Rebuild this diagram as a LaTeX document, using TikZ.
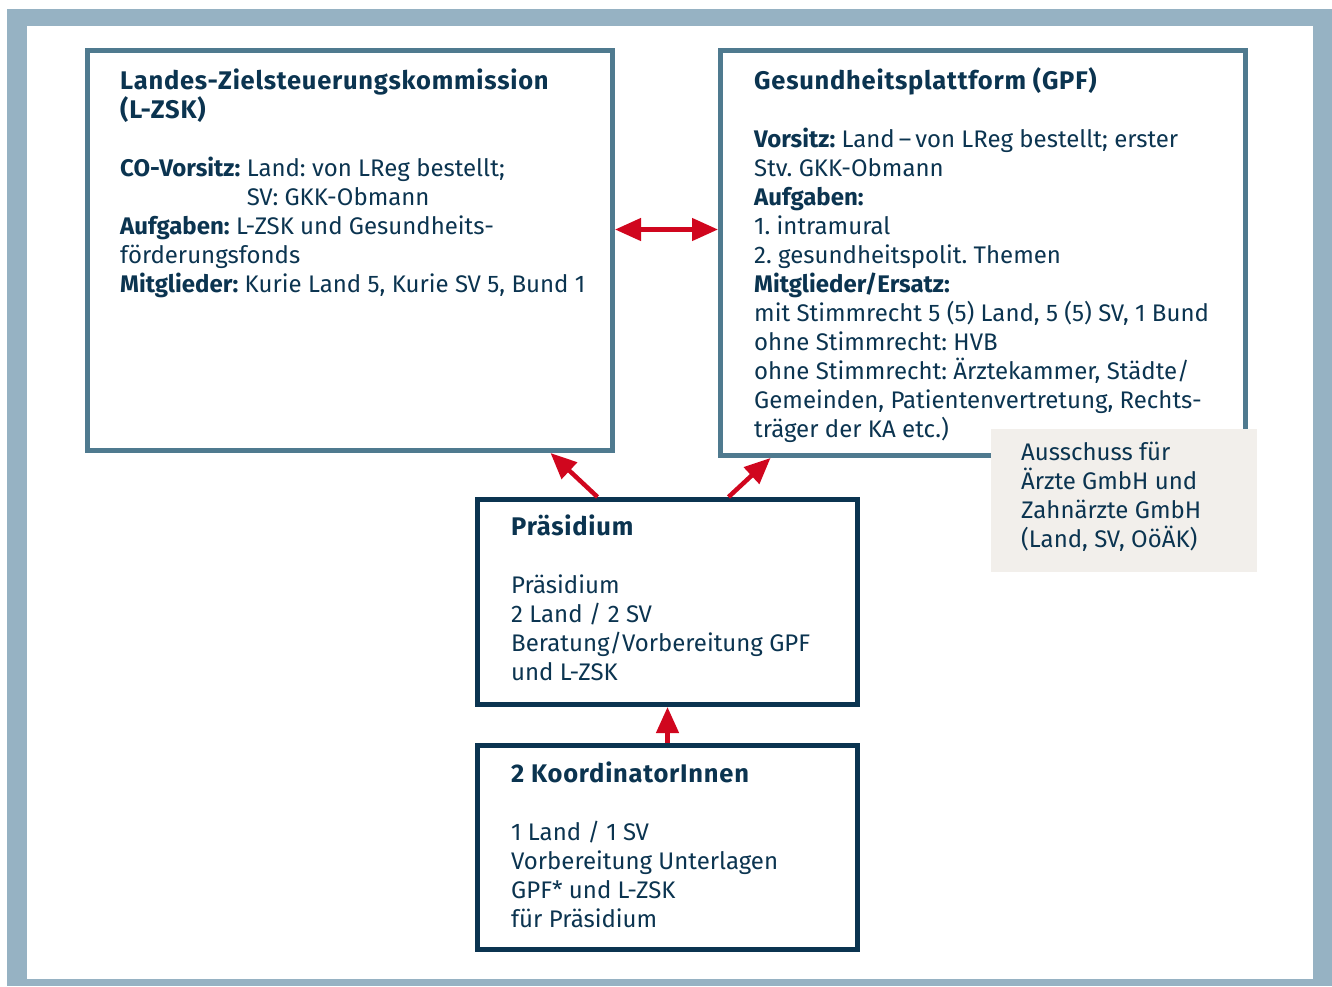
\documentclass[tikz,border=0pt]{standalone}
\usepackage{fontspec}
\setmainfont{Fira Sans}
\frenchspacing
\usetikzlibrary{arrows.meta}
\definecolor{navy}{HTML}{0B3450}
\definecolor{steel}{HTML}{4F7A8F}
\definecolor{frameblue}{HTML}{96B2C3}
\definecolor{redarrow}{HTML}{D0061E}
\definecolor{beige}{HTML}{F2EFEB}
\newcommand{\boxtitle}[1]{{\fontsize{25.5}{29}\selectfont\bfseries\addfontfeature{LetterSpace=3}#1}}
\tikzset{
  topbox/.style={draw=steel, line width=5pt, rectangle, inner sep=0pt},
  lowbox/.style={draw=navy, line width=5pt, rectangle, inner sep=0pt},
  boxtext/.style={anchor=north west, inner sep=0pt, align=left, text=navy,
    font=\fontsize{24}{29}\selectfont},
  redline/.style={draw=redarrow, line width=4.5pt,
    -{Triangle[length=26pt,width=22pt]}},
}

\begin{document}
\begin{tikzpicture}[x=1pt,y=-1pt]
\useasboundingbox (0,0) rectangle (1332,986);
% frame
\fill[frameblue] (7,9) rectangle (1332,986);
\fill[white] (27,26) rectangle (1313,979);

% boxes
\node[topbox, minimum width=525pt, minimum height=400pt] (lzsk) at (350,250.5) {};
\node[topbox, minimum width=525pt, minimum height=405pt] (gpf) at (983,253) {};
\node[fill=beige, minimum width=266pt, minimum height=143pt, inner sep=0pt] (aus) at (1124,500.5) {};
\node[lowbox, minimum width=380pt, minimum height=205pt] (praes) at (667.5,602) {};
\node[lowbox, minimum width=380pt, minimum height=204pt] (koord) at (667.5,847.5) {};

% texts
\node[boxtext] (lzsktxt) at (120,68.5) {\boxtitle{Landes-Zielsteuerungskommission}\\
\boxtitle{(L-ZSK)}\\[29pt]
\textbf{CO-Vorsitz:} Land: von LReg bestellt;\\
\phantom{\textbf{CO-Vorsitz:} }SV: GKK-Obmann\\
\textbf{Aufgaben:} L-ZSK und Gesundheits-\\
förderungsfonds\\
\textbf{Mitglieder:} Kurie Land 5, Kurie SV 5, Bund 1};

\node[boxtext] (gpftxt) at (754,67.5) {\boxtitle{Gesundheitsplattform (GPF)}\\[29pt]
\textbf{Vorsitz:} Land\,–\,von LReg bestellt; erster\\
Stv. GKK-Obmann\\
\textbf{Aufgaben:}\\
1. intramural\\
2. gesundheitspolit. Themen\\
\textbf{Mitglieder/Ersatz:}\\
mit Stimmrecht 5 (5) Land, 5 (5) SV, 1 Bund\\
ohne Stimmrecht: HVB\\
ohne Stimmrecht: Ärztekammer, Städte/\\
Gemeinden, Patientenvertretung, Rechts-\\
träger der KA etc.)};

\node[boxtext] (austxt) at (1021,442) {Ausschuss für\\
Ärzte GmbH und\\
Zahnärzte GmbH\\
(Land, SV, OöÄK)};

\node[boxtext] (praestxt) at (511,514.5) {\boxtitle{Präsidium}\\[29pt]
Präsidium\\
2 Land / 2 SV\\
Beratung/Vorbereitung GPF\\
und L-ZSK};

\node[boxtext] (koordtxt) at (511,761.5) {\boxtitle{2 KoordinatorInnen}\\[29pt]
1 Land / 1 SV\\
Vorbereitung Unterlagen\\
GPF* und L-ZSK\\
für Präsidium};

% arrows
\draw[redline, {Triangle[length=26pt,width=22pt]}-{Triangle[length=26pt,width=22pt]}]
  ([yshift=-181.5pt]lzsk.north east) -- ([yshift=-181.5pt]gpf.north west);
\draw[redline] ([xshift=122.5pt]praes.north west) -- ([xshift=465.5pt]lzsk.south west);
\draw[redline] ([xshift=253.5pt]praes.north west) -- ([xshift=52.5pt]gpf.south west);
\draw[redline] (koord.north) -- (praes.south);
\end{tikzpicture}
\end{document}
